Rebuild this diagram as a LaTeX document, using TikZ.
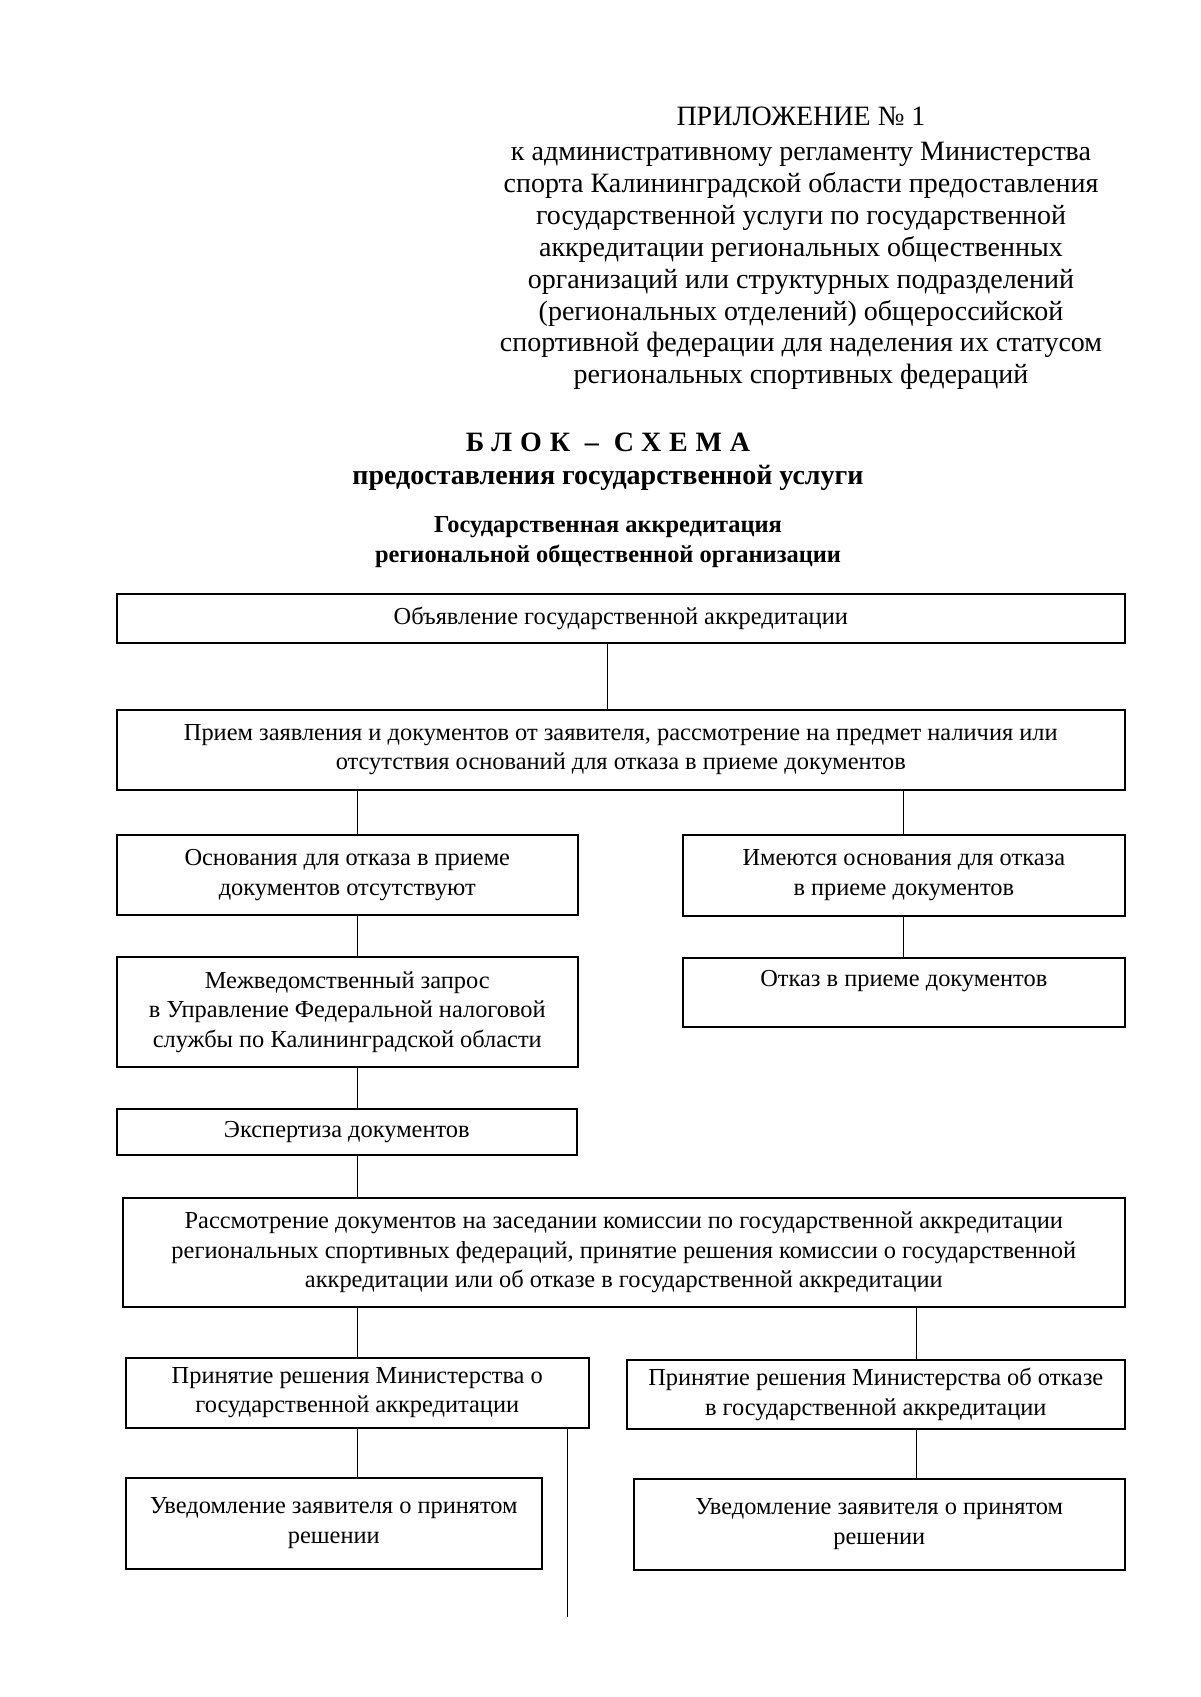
\documentclass[tikz,border=0pt]{standalone}
\usepackage{fontspec}
\setmainfont{Liberation Serif}
\newcommand{\boxfont}{\fontsize{12.2}{14.75}\selectfont}
\newcommand{\headfont}{\fontsize{14}{15.95}\selectfont}
\newcommand{\subfont}{\fontsize{12.2}{15}\selectfont\bfseries}
\tikzset{
  box/.style={draw, line width=0.8pt, align=center, inner sep=0pt, anchor=north west, font=\boxfont},
  link/.style={line width=0.5pt}
}
\begin{document}
\begin{tikzpicture}[x=0.5pt, y=-0.5pt]

% Page size of the scan
\useasboundingbox (0,0) rectangle (1200,1697);

% Header of the appendix
\node[font=\headfont] (appno) at (801,116) {ПРИЛОЖЕНИЕ № 1};
\node[font=\headfont, align=center] (apptext) at (801,266) {к административному регламенту Министерства\\
спорта Калининградской области предоставления\\ государственной услуги по государственной\\
аккредитации региональных общественных\\ организаций или структурных подразделений\\
(региональных отделений) общероссийской\\ спортивной федерации для наделения их статусом\\
региональных спортивных федераций};

% Title of the scheme
\node[font=\headfont\bfseries\addfontfeature{LetterSpace=28}] (title) at (608,442) {БЛОК – СХЕМА};
\node[font=\headfont\bfseries] (subtitle) at (608,478) {предоставления государственной услуги};
\node[font=\subfont, align=center] (kind) at (608,542) {Государственная аккредитация\\ региональной общественной организации};

% Boxes of the scheme
\node[box, minimum width=504pt, minimum height=24.5pt] (b1) at (116,593) {Объявление государственной аккредитации};
\node[box, minimum width=504pt, minimum height=40pt] (b2) at (116,709) {Прием заявления и документов от заявителя, рассмотрение на предмет наличия или\\ отсутствия оснований для отказа в приеме документов};
\node[box, minimum width=230.5pt, minimum height=40pt] (b3L) at (116,834) {Основания для отказа в приеме\\ документов отсутствуют};
\node[box, minimum width=221pt, minimum height=40.5pt] (b3R) at (682,834) {Имеются основания для отказа\\ в приеме документов};
\node[box, minimum width=230.5pt, minimum height=55pt] (b4L) at (116,956) {Межведомственный запрос\\ в Управление Федеральной налоговой\\ службы по Калининградской области};
\node[box, minimum width=221pt, minimum height=34.5pt, text depth=14pt] (b4R) at (682,957) {Отказ в приеме документов};
\node[box, minimum width=230pt, minimum height=23pt] (b5) at (116,1108) {Экспертиза документов};
\node[box, minimum width=501pt, minimum height=54.5pt] (b6) at (122,1197) {Рассмотрение документов на заседании комиссии по государственной аккредитации\\ региональных спортивных федераций, принятие решения комиссии о государственной\\ аккредитации или об отказе в государственной аккредитации};
\node[box, minimum width=231.5pt, minimum height=35pt] (b7L) at (125,1357) {Принятие решения Министерства о\\ государственной аккредитации};
\node[box, minimum width=249pt, minimum height=34.5pt] (b7R) at (626,1359) {Принятие решения Министерства об отказе\\ в государственной аккредитации};
\node[box, minimum width=208pt, minimum height=45.5pt] (b8L) at (125,1477) {Уведомление заявителя о принятом\\ решении};
\node[box, minimum width=245.5pt, minimum height=45.5pt] (b8R) at (633,1478) {Уведомление заявителя о принятом\\ решении};

% Columns of the connectors
\coordinate (colM) at (607,0);
\coordinate (colL) at (357,0);
\coordinate (colR) at (903,0);
\coordinate (colRR) at (916,0);
\coordinate (loose) at (567,1617);

% Connectors
\draw[link] (b1.south -| colM) -- (b2.north -| colM);
\draw[link] (b2.south -| colL) -- (b3L.north -| colL);
\draw[link] (b2.south -| colR) -- (b3R.north -| colR);
\draw[link] (b3L.south -| colL) -- (b4L.north -| colL);
\draw[link] (b3R.south -| colR) -- (b4R.north -| colR);
\draw[link] (b4L.south -| colL) -- (b5.north -| colL);
\draw[link] (b5.south -| colL) -- (b6.north -| colL);
\draw[link] (b6.south -| colL) -- (b7L.north -| colL);
\draw[link] (b6.south -| colRR) -- (b7R.north -| colRR);
\draw[link] (b7L.south -| colL) -- (b8L.north -| colL);
\draw[link] (b7R.south -| colRR) -- (b8R.north -| colRR);
\draw[link] (b7L.south -| loose) -- (loose);
\end{tikzpicture}
\end{document}
